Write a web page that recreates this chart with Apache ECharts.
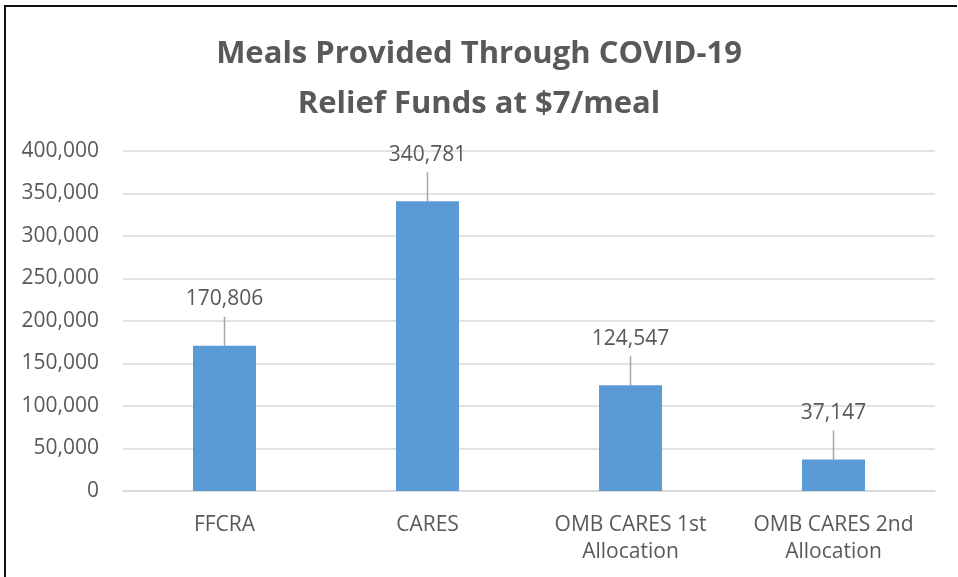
<!DOCTYPE html>
<html>
<head>
<meta charset="utf-8">
<script src="https://cdn.jsdelivr.net/npm/echarts@6/dist/echarts.min.js"></script>
<style>
  html, body { margin: 0; padding: 0; background: #fff; }
  #chart { width: 958px; height: 577px; }
</style>
</head>
<body>
<div id="chart"></div>
<script>
// data
var categories = ['FFCRA', 'CARES', 'OMB CARES 1st\nAllocation', 'OMB CARES 2nd\nAllocation'];
var meals = [170806, 340781, 124547, 37147];
var yTicks = { min: 0, max: 400000, interval: 50000 };

var textColor = '#595959';
var fontName = '"Open Sans", sans-serif';

var chart = echarts.init(document.getElementById('chart'));

var option = {
    backgroundColor: '#fff',
    animation: false,
    title: {
        text: 'Meals Provided Through COVID-19\nRelief Funds at $7/meal',
        left: 'center',
        top: 24,
        textStyle: {
            fontFamily: fontName,
            fontSize: 31,
            fontWeight: 'bold',
            color: textColor,
            lineHeight: 50
        }
    },
    graphic: [{
        type: 'polyline',
        shape: { points: [[5, 577], [5, 6], [957, 6]] },
        style: { stroke: '#111', lineWidth: 2, fill: null }
    }],
    grid: { left: 123, right: 23, top: 151, bottom: 86 },
    xAxis: {
        type: 'category',
        data: categories,
        axisTick: { show: false },
        axisLine: { lineStyle: { color: '#D9D9D9', width: 1.5 } },
        axisLabel: {
            color: textColor,
            fontFamily: fontName,
            fontSize: 21,
            lineHeight: 27,
            margin: 21,
            interval: 0
        }
    },
    yAxis: {
        type: 'value',
        min: yTicks.min,
        max: yTicks.max,
        interval: yTicks.interval,
        axisLine: { show: false },
        axisTick: { show: false },
        splitLine: { lineStyle: { color: '#D9D9D9', width: 1.5 } },
        axisLabel: {
            color: textColor,
            fontFamily: fontName,
            fontSize: 21,
            margin: 24,
            formatter: function (v) { return v.toLocaleString('en-US'); }
        }
    },
    series: [
        {
            type: 'bar',
            data: meals,
            barWidth: 63,
            itemStyle: { color: '#5B9BD5' },
            label: {
                show: true,
                position: 'top',
                distance: 36,
                color: textColor,
                fontFamily: fontName,
                fontSize: 21,
                formatter: function (p) { return p.value.toLocaleString('en-US'); }
            },
            z: 3
        },
        {
            // leader lines from bar top up to the label
            type: 'custom',
            data: meals.map(function (v, i) { return [i, v]; }),
            renderItem: function (params, api) {
                var p = api.coord([api.value(0), api.value(1)]);
                return {
                    type: 'line',
                    shape: { x1: p[0], y1: p[1], x2: p[0], y2: p[1] - 29 },
                    style: { stroke: '#A6A6A6', lineWidth: 1.5 }
                };
            },
            z: 2
        }
    ]
};

chart.setOption(option);
</script>
</body>
</html>
